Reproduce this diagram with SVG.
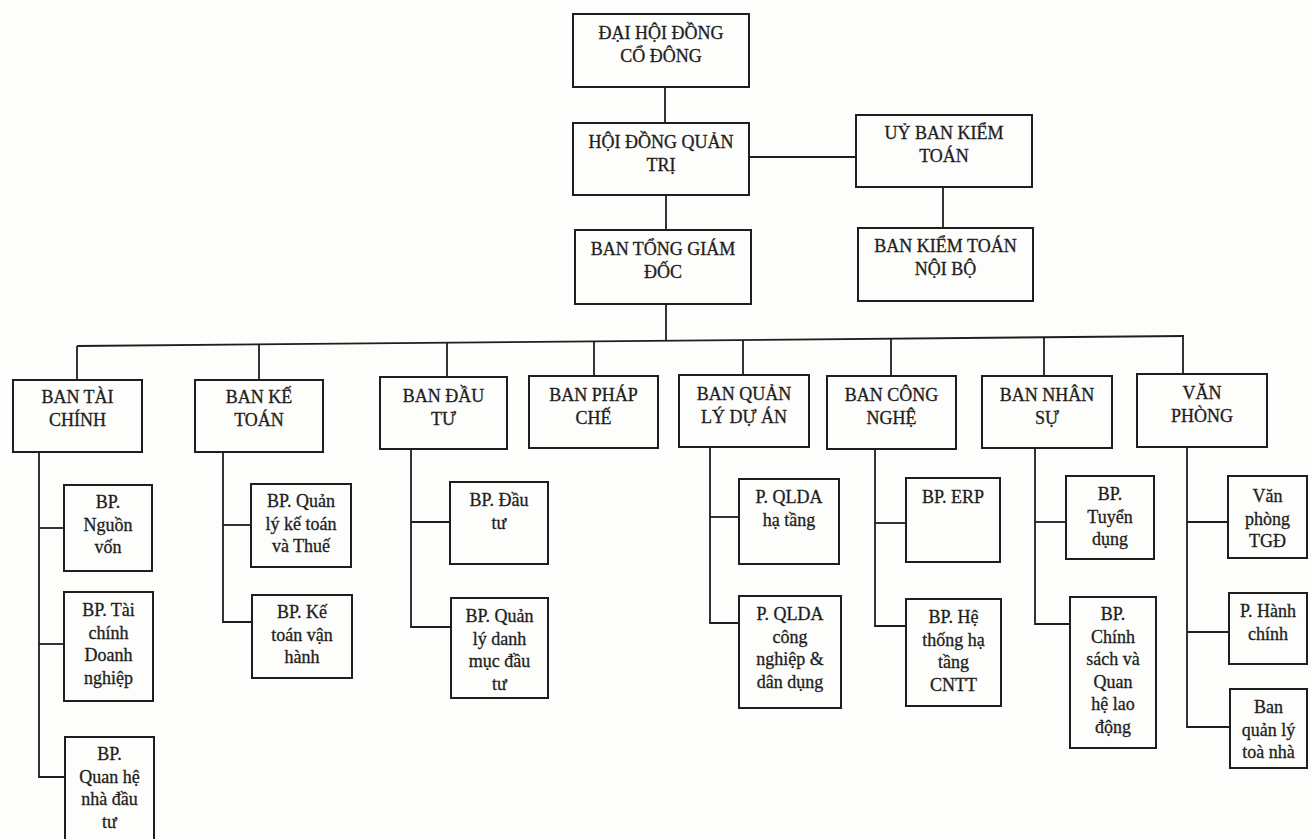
<svg xmlns="http://www.w3.org/2000/svg" width="1311" height="839" viewBox="0 0 1311 839">
<style>
.bg{fill:#fdfdfb}
.box{fill:none;stroke:#1e1e1e;stroke-width:2}
.ln{fill:none;stroke:#1e1e1e;stroke-width:1.8}
text{font-family:"Liberation Serif","Times New Roman",serif;font-size:18px;fill:#1e1e1e;stroke:#1e1e1e;stroke-width:0.3;text-anchor:middle}
</style>
<rect class="bg" x="0" y="0" width="1311" height="839"/>
<g id="connectors">
<line class="ln" x1="665" y1="87" x2="665" y2="123"/>
<line class="ln" x1="666" y1="195" x2="666" y2="230"/>
<line class="ln" x1="749" y1="157" x2="856" y2="157"/>
<line class="ln" x1="943" y1="187" x2="943" y2="228"/>
<line class="ln" x1="666" y1="304" x2="666" y2="341"/>
<line class="ln" x1="77" y1="346" x2="1184" y2="336"/>
<line class="ln" x1="77" y1="346" x2="77" y2="380"/>
<line class="ln" x1="259" y1="344.4" x2="259" y2="380"/>
<line class="ln" x1="447" y1="342.7" x2="447" y2="377"/>
<line class="ln" x1="594" y1="341.4" x2="594" y2="376"/>
<line class="ln" x1="743" y1="340" x2="743" y2="375"/>
<line class="ln" x1="891" y1="338.6" x2="891" y2="376"/>
<line class="ln" x1="1044" y1="337.3" x2="1044" y2="376"/>
<line class="ln" x1="1183" y1="336" x2="1183" y2="374"/>
<polyline class="ln" points="39,452 39,777 65,777"/>
<line class="ln" x1="39" y1="528" x2="64" y2="528"/>
<line class="ln" x1="39" y1="644" x2="64" y2="644"/>
<polyline class="ln" points="223,452 223,622 252,622"/>
<line class="ln" x1="223" y1="525" x2="251" y2="525"/>
<polyline class="ln" points="411,449 411,627 451,627"/>
<line class="ln" x1="411" y1="522" x2="450" y2="522"/>
<polyline class="ln" points="710,447 710,623 739,623"/>
<line class="ln" x1="710" y1="517" x2="739" y2="517"/>
<polyline class="ln" points="875,449 875,626 906,626"/>
<line class="ln" x1="875" y1="523" x2="906" y2="523"/>
<polyline class="ln" points="1035,448 1035,624 1070,624"/>
<line class="ln" x1="1035" y1="522" x2="1066" y2="522"/>
<polyline class="ln" points="1187,447 1187,727 1230,727"/>
<line class="ln" x1="1187" y1="522" x2="1228" y2="522"/>
<line class="ln" x1="1187" y1="632" x2="1229" y2="632"/>
</g>
<g id="dai-hoi-dong-co-dong"><rect class="box" x="573" y="14" width="176" height="73"/><text x="661" y="39">ĐẠI HỘI ĐỒNG<tspan x="661" dy="22.5">CỔ ĐÔNG</tspan></text></g>
<g id="hoi-dong-quan-tri"><rect class="box" x="573" y="123" width="176" height="72"/><text x="661" y="148">HỘI ĐỒNG QUẢN<tspan x="661" dy="22.5">TRỊ</tspan></text></g>
<g id="ban-tong-giam-doc"><rect class="box" x="575" y="230" width="176" height="74"/><text x="663" y="255">BAN TỔNG GIÁM<tspan x="663" dy="22.5">ĐỐC</tspan></text></g>
<g id="uy-ban-kiem-toan"><rect class="box" x="856" y="115" width="176" height="72"/><text x="944" y="139">UỶ BAN KIỂM<tspan x="944" dy="22.5">TOÁN</tspan></text></g>
<g id="ban-kiem-toan-noi-bo"><rect class="box" x="858" y="228" width="175" height="73"/><text x="945.5" y="252">BAN KIỂM TOÁN<tspan x="945.5" dy="22.5">NỘI BỘ</tspan></text></g>
<g id="ban-tai-chinh"><rect class="box" x="13" y="380" width="129" height="72"/><text x="77.5" y="403">BAN TÀI<tspan x="77.5" dy="22.5">CHÍNH</tspan></text></g>
<g id="ban-ke-toan"><rect class="box" x="195" y="380" width="128" height="72"/><text x="259" y="403">BAN KẾ<tspan x="259" dy="22.5">TOÁN</tspan></text></g>
<g id="ban-dau-tu"><rect class="box" x="380" y="377" width="127" height="72"/><text x="443.5" y="402">BAN ĐẦU<tspan x="443.5" dy="22.5">TƯ</tspan></text></g>
<g id="ban-phap-che"><rect class="box" x="529" y="376" width="129" height="72"/><text x="593.5" y="401">BAN PHÁP<tspan x="593.5" dy="22.5">CHẾ</tspan></text></g>
<g id="ban-quan-ly-du-an"><rect class="box" x="679" y="375" width="130" height="72"/><text x="744" y="400">BAN QUẢN<tspan x="744" dy="22.5">LÝ DỰ ÁN</tspan></text></g>
<g id="ban-cong-nghe"><rect class="box" x="827" y="376" width="129" height="73"/><text x="891.5" y="401">BAN CÔNG<tspan x="891.5" dy="22.5">NGHỆ</tspan></text></g>
<g id="ban-nhan-su"><rect class="box" x="982" y="376" width="130" height="72"/><text x="1047" y="401">BAN NHÂN<tspan x="1047" dy="22.5">SỰ</tspan></text></g>
<g id="van-phong"><rect class="box" x="1137" y="374" width="130" height="73"/><text x="1202" y="399">VĂN<tspan x="1202" dy="22.5">PHÒNG</tspan></text></g>
<g id="bp-nguon-von"><rect class="box" x="64" y="485" width="88" height="86"/><text x="108" y="508">BP.<tspan x="108" dy="22.5">Nguồn</tspan><tspan x="108" dy="22.5">vốn</tspan></text></g>
<g id="bp-tai-chinh-doanh-nghiep"><rect class="box" x="64" y="592" width="89" height="109"/><text x="108.5" y="616">BP. Tài<tspan x="108.5" dy="22.5">chính</tspan><tspan x="108.5" dy="22.5">Doanh</tspan><tspan x="108.5" dy="22.5">nghiệp</tspan></text></g>
<g id="bp-quan-he-nha-dau-tu"><rect class="box" x="65" y="737" width="89" height="112"/><text x="109.5" y="760">BP.<tspan x="109.5" dy="22.5">Quan hệ</tspan><tspan x="109.5" dy="22.5">nhà đầu</tspan><tspan x="109.5" dy="22.5">tư</tspan></text></g>
<g id="bp-quan-ly-ke-toan-va-thue"><rect class="box" x="251" y="484" width="100" height="83"/><text x="301" y="507">BP. Quản<tspan x="301" dy="22.5">lý kế toán</tspan><tspan x="301" dy="22.5">và Thuế</tspan></text></g>
<g id="bp-ke-toan-van-hanh"><rect class="box" x="252" y="595" width="100" height="83"/><text x="302" y="618">BP. Kế<tspan x="302" dy="22.5">toán vận</tspan><tspan x="302" dy="22.5">hành</tspan></text></g>
<g id="bp-dau-tu"><rect class="box" x="450" y="482" width="98" height="82"/><text x="499" y="506">BP. Đầu<tspan x="499" dy="22.5">tư</tspan></text></g>
<g id="bp-quan-ly-danh-muc-dau-tu"><rect class="box" x="451" y="598" width="97" height="100"/><text x="499.5" y="622">BP. Quản<tspan x="499.5" dy="22.5">lý danh</tspan><tspan x="499.5" dy="22.5">mục đầu</tspan><tspan x="499.5" dy="22.5">tư</tspan></text></g>
<g id="p-qlda-ha-tang"><rect class="box" x="739" y="479" width="100" height="85"/><text x="789" y="503">P. QLDA<tspan x="789" dy="22.5">hạ tầng</tspan></text></g>
<g id="p-qlda-cong-nghiep-dan-dung"><rect class="box" x="739" y="596" width="102" height="112"/><text x="790" y="620">P. QLDA<tspan x="790" dy="22.5">công</tspan><tspan x="790" dy="22.5">nghiệp &amp;</tspan><tspan x="790" dy="22.5">dân dụng</tspan></text></g>
<g id="bp-erp"><rect class="box" x="906" y="478" width="94" height="84"/><text x="953" y="503">BP. ERP</text></g>
<g id="bp-he-thong-ha-tang-cntt"><rect class="box" x="906" y="599" width="95" height="107"/><text x="953.5" y="623">BP. Hệ<tspan x="953.5" dy="22.5">thống hạ</tspan><tspan x="953.5" dy="22.5">tầng</tspan><tspan x="953.5" dy="22.5">CNTT</tspan></text></g>
<g id="bp-tuyen-dung"><rect class="box" x="1066" y="476" width="88" height="83"/><text x="1110" y="500">BP.<tspan x="1110" dy="22.5">Tuyển</tspan><tspan x="1110" dy="22.5">dụng</tspan></text></g>
<g id="bp-chinh-sach-quan-he-lao-dong"><rect class="box" x="1070" y="597" width="86" height="151"/><text x="1113" y="620">BP.<tspan x="1113" dy="22.6">Chính</tspan><tspan x="1113" dy="22.6">sách và</tspan><tspan x="1113" dy="22.6">Quan</tspan><tspan x="1113" dy="22.6">hệ lao</tspan><tspan x="1113" dy="22.6">động</tspan></text></g>
<g id="van-phong-tgd"><rect class="box" x="1228" y="476" width="79" height="82"/><text x="1267.5" y="502">Văn<tspan x="1267.5" dy="22.5">phòng</tspan><tspan x="1267.5" dy="22.5">TGĐ</tspan></text></g>
<g id="p-hanh-chinh"><rect class="box" x="1229" y="593" width="78" height="71"/><text x="1268" y="617">P. Hành<tspan x="1268" dy="22.5">chính</tspan></text></g>
<g id="ban-quan-ly-toa-nha"><rect class="box" x="1230" y="689" width="77" height="79"/><text x="1268.5" y="713">Ban<tspan x="1268.5" dy="22.5">quản lý</tspan><tspan x="1268.5" dy="22.5">toà nhà</tspan></text></g>
</svg>
